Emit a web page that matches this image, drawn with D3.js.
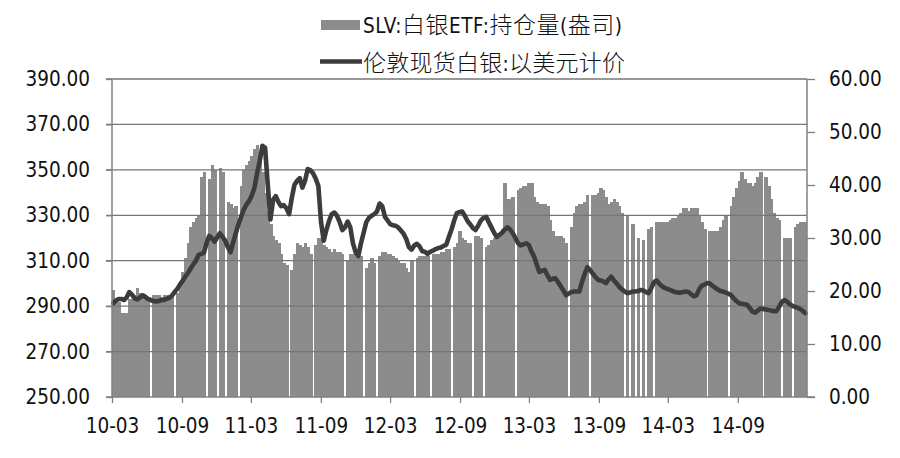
<!DOCTYPE html>
<html><head><meta charset="utf-8">
<script src="https://cdn.jsdelivr.net/npm/d3@7"></script>
<style>body{margin:0;background:#fff} svg{display:block}</style>
</head><body><svg id="c" width="900" height="458"></svg>
<script>
// ---- data ----
const firstWeek = "2010-03-01";
const lastDate = "2015-03-02";
// SLV holdings (weekly, null = no data)
const holdings = [
297,293,292,287,287,287,293,293,295,298,
296,294,294,294,null,295,295,295,294,295,
295,294,294,null,296,299,305,311,318,325,
327,329,330,347,349,null,346,352,350,null,
351,349,null,336,335,333,334,null,343,350,
352,354,356,359,361,356,349,340,332,326,
321,319,318,313,309,308,null,306,313,318,
317,316,318,316,313,null,317,320,319,317,
316,315,314,315,314,314,313,null,310,313,
313,314,313,312,null,307,309,311,309,null,
312,314,314,313,313,312,311,310,309,309,
307,305,310,null,311,312,312,312,312,null,
313,313,313,314,314,315,315,null,316,318,
323,320,319,318,318,null,321,321,320,null,
316,317,319,320,321,322,324,344,337,337,
338,null,341,342,343,343,344,344,338,336,
335,335,335,334,328,323,321,321,321,320,
318,null,325,331,334,335,335,336,339,null,
339,339,340,342,341,338,335,336,337,336,
334,331,null,330,null,326,null,320,null,319,
null,324,325,null,327,327,327,327,327,328,
329,329,330,331,333,333,332,333,333,333,
330,327,324,null,323,323,323,323,325,328,
330,null,334,338,342,345,349,346,344,344,
343,344,347,349,null,347,343,337,331,329,
328,null,320,320,320,null,325,326,327,327,
327];
// London spot silver, USD (weekly)
const price = [
17.7,18.2,18.5,18.5,18.3,18.8,19.8,19.3,18.6,18.4,
18.8,19.2,18.9,18.5,18.3,18.1,18.0,18.1,18.3,18.3,
18.5,18.7,19.1,19.8,20.4,21.2,21.9,22.7,23.4,24.2,
25.0,25.7,26.8,27.0,27.2,29.0,30.4,30.0,29.3,30.1,
30.9,30.2,29.5,28.3,27.3,29.2,30.9,32.6,34.0,35.4,
36.3,37.0,38.0,39.5,42.2,44.6,47.4,47.0,40.0,33.5,
37.2,37.9,36.8,36.0,36.2,35.6,34.5,37.5,40.0,40.8,
41.3,39.5,40.8,43.0,42.8,42.2,41.2,39.8,33.0,29.5,
31.5,33.2,34.5,34.8,34.2,33.0,31.5,32.0,33.1,32.0,
29.0,27.3,26.6,29.0,31.0,33.0,33.8,34.2,34.5,35.0,
36.5,36.0,34.0,33.3,32.6,32.4,32.3,32.0,31.4,30.8,
29.8,28.3,27.8,28.6,28.9,28.4,27.5,27.4,27.0,27.4,
27.6,27.9,28.1,28.2,28.5,28.7,30.2,31.6,33.3,34.7,
34.9,35.0,34.2,33.2,32.6,31.9,31.5,32.3,33.3,33.8,
34.0,33.0,32.0,31.0,30.2,30.6,31.0,31.6,32.0,31.6,
30.9,30.0,29.0,28.6,28.8,29.0,28.7,27.5,26.5,25.0,
23.6,23.8,24.0,23.0,22.1,22.3,22.4,21.7,20.9,20.1,
19.2,19.5,19.8,19.9,19.9,19.9,21.7,23.2,24.5,24.0,
23.3,22.7,22.1,22.0,21.8,21.5,22.2,22.7,22.0,21.4,
20.8,20.3,19.9,19.6,19.7,19.9,19.9,20.0,20.2,20.1,
19.8,19.6,20.5,21.6,22.0,21.4,20.9,20.6,20.4,20.2,
20.0,19.8,19.7,19.7,19.8,19.9,19.8,19.4,19.0,19.2,
20.3,21.0,21.2,21.5,21.4,21.0,20.6,20.3,20.0,19.9,
19.7,19.5,19.2,18.6,18.1,17.7,17.6,17.5,17.4,16.8,
16.1,15.9,16.3,16.7,16.6,16.5,16.4,16.3,16.2,16.2,
17.0,17.9,18.3,18.0,17.5,17.2,17.0,16.8,16.6,16.2,
15.8];
const xTickLabels = ["10-03","10-09","11-03","11-09","12-03","12-09","13-03","13-09","14-03","14-09"];
const leftTicks = [250,270,290,310,330,350,370,390];
const rightTicks = [0,10,20,30,40,50,60];
const legendLabels = ["SLV:白银ETF:持仓量(盎司)", "伦敦现货白银:以美元计价"];

// ---- chart ----
const svg = d3.select("#c");
const parse = d3.utcParse("%Y-%m-%d");
const t0 = parse(firstWeek);
const weeks = holdings.map((_, i) => d3.utcDay.offset(t0, 7 * i));
const L = 112, R = 807, T = 79, B = 397;
const x = d3.scaleUtc().domain([t0, parse(lastDate)]).range([L, R]);
const yL = d3.scaleLinear().domain([250, 390]).range([B, T]);
const yR = d3.scaleLinear().domain([0, 60]).range([B, T]);
const fontLat = "'DejaVu Sans Condensed','DejaVu Sans',sans-serif";
const fontCJK = "'Noto Sans CJK SC','DejaVu Sans',sans-serif";
const barColor = "#8c8c8c", lineColor = "#3c3c3c", axisColor = "#808080";

// bars
const barData = weeks.map((d, i) => ({ d, v: holdings[i] })).filter(e => e.v != null);
svg.append("g").attr("shape-rendering", "crispEdges")
  .selectAll("rect").data(barData).join("rect")
  .attr("x", e => x(e.d))
  .attr("width", e => Math.min(x(d3.utcDay.offset(e.d, 7)) + 0.8, R) - x(e.d))
  .attr("y", e => yL(e.v))
  .attr("height", e => yL(250) - yL(e.v))
  .attr("fill", barColor);

// gridlines
svg.append("g").selectAll("line").data(leftTicks.filter(v => v > 250)).join("line")
  .attr("x1", L - 6).attr("x2", R).attr("y1", d => yL(d)).attr("y2", d => yL(d))
  .attr("stroke", "#767676").attr("stroke-width", 1.3);

// price line
const line = d3.line()
  .x((v, i) => x(d3.utcHour.offset(weeks[i], 84)))
  .y(v => yR(v));
svg.append("path").attr("d", line(price)).attr("fill", "none")
  .attr("stroke", lineColor).attr("stroke-width", 4.6)
  .attr("stroke-linejoin", "round").attr("stroke-linecap", "round");

// axes
function styleAxis(g) {
  g.select(".domain").remove();
  g.selectAll(".tick line").attr("stroke", axisColor).attr("stroke-width", 1.3);
  g.selectAll("text").attr("font-family", fontLat).attr("font-size", 20.5).attr("fill", "#111");
}
svg.append("g").attr("transform", `translate(${L},0)`)
  .call(d3.axisLeft(yL).tickValues(leftTicks).tickFormat(d3.format(".2f")).tickSize(6).tickPadding(16))
  .call(styleAxis);
svg.append("g").attr("transform", `translate(${R},0)`)
  .call(d3.axisRight(yR).tickValues(rightTicks).tickFormat(d3.format(".2f")).tickSize(8).tickPadding(14))
  .call(styleAxis);
const parseTick = d3.utcParse("%y-%m");
svg.append("g").attr("transform", `translate(0,${B})`)
  .call(d3.axisBottom(x).tickValues(xTickLabels.map(s => parseTick(s)))
    .tickFormat(d3.utcFormat("%y-%m")).tickSize(6).tickPadding(15))
  .call(styleAxis);

// frame lines
svg.append("line").attr("x1", L).attr("x2", L).attr("y1", T).attr("y2", B)
  .attr("stroke", axisColor).attr("stroke-width", 1.5);
svg.append("line").attr("x1", R).attr("x2", R).attr("y1", T).attr("y2", B)
  .attr("stroke", axisColor).attr("stroke-width", 1.5);
svg.append("line").attr("x1", L - 6).attr("x2", R + 8).attr("y1", B).attr("y2", B)
  .attr("stroke", axisColor).attr("stroke-width", 1.5);

// legend
function legendText(str, xPos, yPos) {
  const t = svg.append("text").attr("x", xPos).attr("y", yPos).attr("fill", "#111");
  const runs = str.match(/[\u3000-\u9fff\uff00-\uffef]+|[^\u3000-\u9fff\uff00-\uffef]+/g);
  runs.forEach(r => {
    const cjk = /[\u3000-\u9fff]/.test(r);
    t.append("tspan").text(r)
      .attr("font-family", cjk ? fontCJK : fontLat)
      .attr("font-size", cjk ? 23 : 20.5)
      .attr("font-weight", cjk ? 300 : 400);
  });
  return t;
}
svg.append("rect").attr("x", 321).attr("y", 20).attr("width", 39).attr("height", 10).attr("fill", barColor);
const lt1 = legendText(legendLabels[0], 363, 33);
svg.append("line").attr("x1", 320).attr("x2", 362).attr("y1", 61.5).attr("y2", 61.5)
  .attr("stroke", lineColor).attr("stroke-width", 4.5);
const lt2 = legendText(legendLabels[1], 363, 71);
[[lt1, 259], [lt2, 262]].forEach(([t, w]) => {
  const bw = t.node().getComputedTextLength();
  if (bw > 0) t.attr("textLength", w).attr("lengthAdjust", "spacing");
});
</script></body></html>
